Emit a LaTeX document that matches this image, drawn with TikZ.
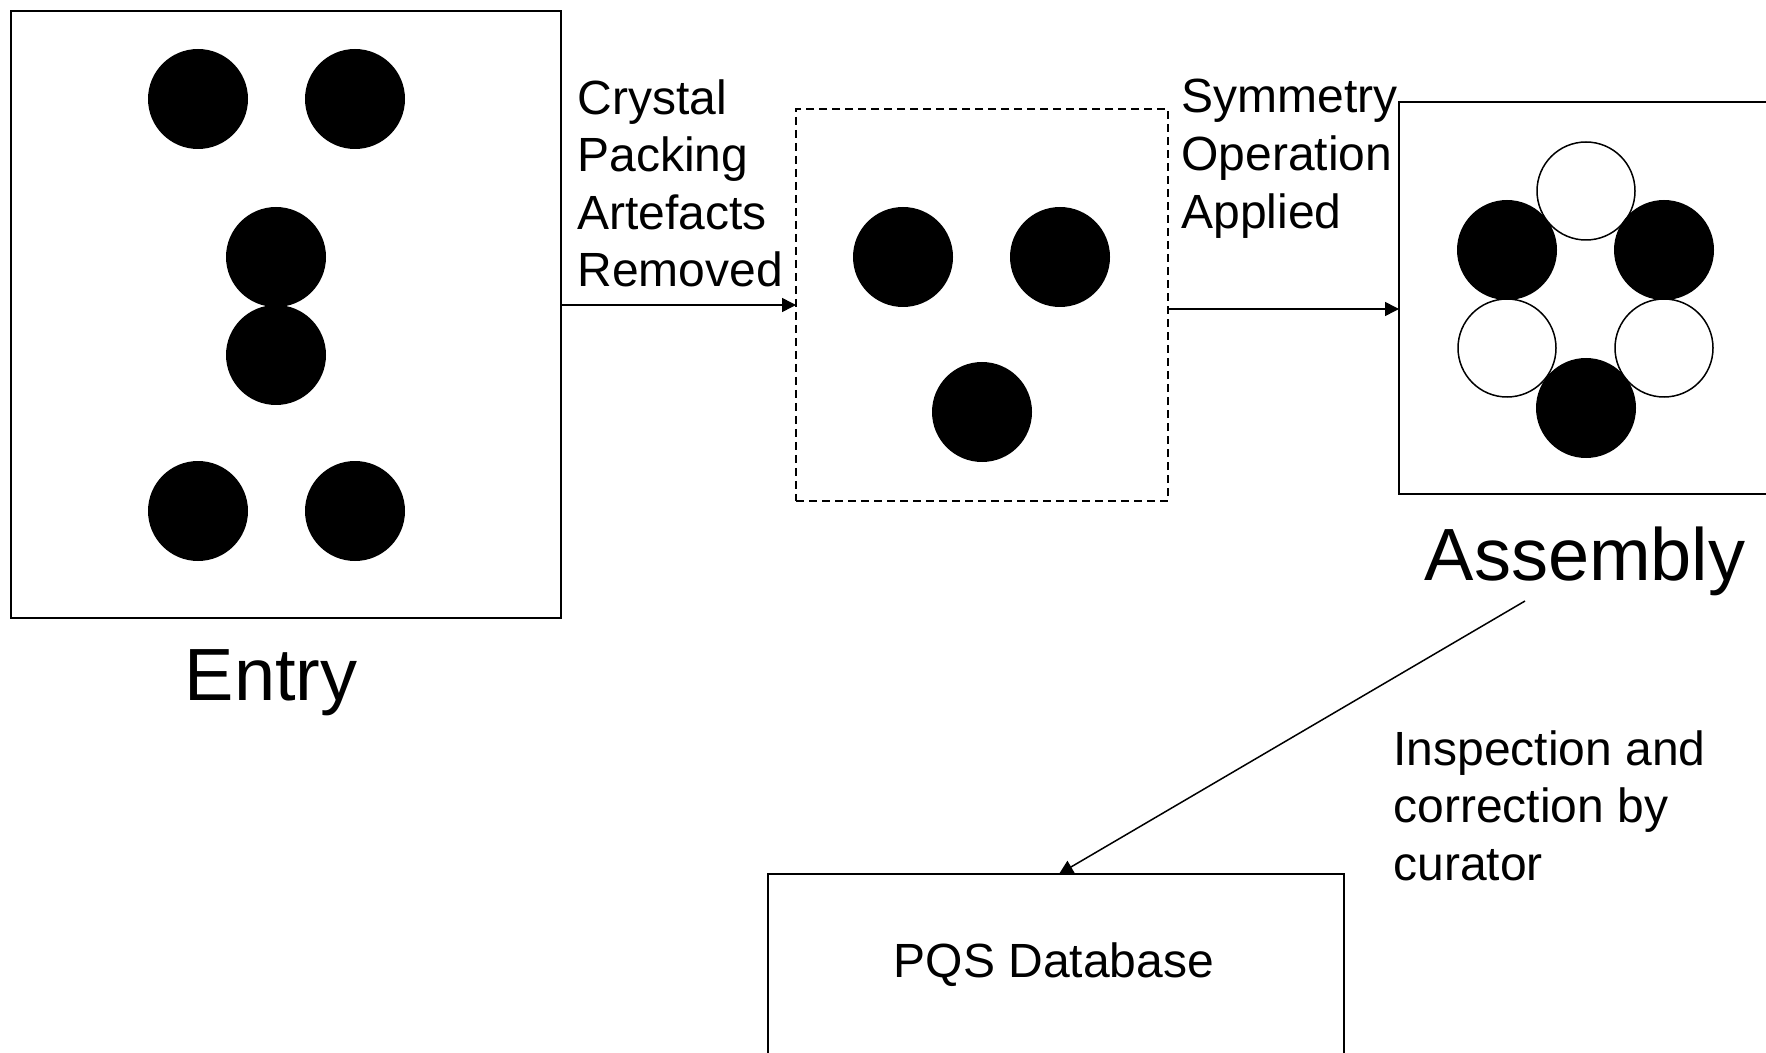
\documentclass[tikz,border=0pt]{standalone}
\usepackage{fontspec}
\setmainfont{Liberation Sans}
\usetikzlibrary{arrows.meta}
\begin{document}
\begin{tikzpicture}[x=0.5pt,y=-0.5pt,
  boxed/.style={draw,line width=1pt,rectangle,inner sep=0pt,outer sep=0pt},
  dashbox/.style={draw,line width=0.75pt,dash pattern=on 4pt off 2.5pt,rectangle,inner sep=0pt,outer sep=0pt},
  arr/.style={line width=0.75pt,-{Triangle[length=7pt,width=7pt]}},
  lbl/.style={font=\fontsize{24}{28.8}\selectfont,align=left,inner sep=0pt,anchor=north west},
  biglbl/.style={font=\fontsize{37}{44}\selectfont,inner sep=0pt,anchor=base},
  dot/.style={fill=black},
  ring/.style={draw=black,fill=white,line width=0.75pt}]
\useasboundingbox (0,0) rectangle (1766,1053);
\clip (0,0) rectangle (1766,1053);
% boxes
\node[boxed,minimum width=275pt,minimum height=303.5pt] (entry) at (286,314.5) {};
\node[dashbox,minimum width=186pt,minimum height=196pt] (crop) at (982,305) {};
\node[boxed,minimum width=200pt,minimum height=196pt] (assembly) at (1599,298) {};
\node[boxed,minimum width=288pt,minimum height=120pt] (pqs) at (1056,994) {};
% entry circles
\foreach \p in {(198,99),(355,99),(276,257),(276,355),(198,511),(355,511)}
  \fill[dot] \p circle[radius=50];
% cropped circles
\foreach \p in {(903,257),(1060,257),(982,412)}
  \fill[dot] \p circle[radius=50];
% assembly circles
\foreach \p in {(1586,191),(1507,348),(1664,348)}
  \draw[ring] \p circle[radius=49];
\foreach \p in {(1507,250),(1664,250),(1586,408)}
  \fill[dot] \p circle[radius=50];
% labels
\node[lbl] (t1) at (577,79) {Crystal\\Packing\\Artefacts\\Removed};
\node[lbl] (t2) at (1181,79) {Symmetry\\Operation\\Applied};
\node[lbl] (t3) at (1393,730) {Inspection and\\correction by\\curator};
\node[biglbl] (entrylbl) at (271,700) {Entry};
\node[biglbl] (assemblylbl) at (1585,580) {Assembly};
\node[font=\fontsize{24}{28.8}\selectfont,inner sep=0pt,anchor=base] (pqslbl) at (1054,977) {PQS Database};
% connectors
\coordinate (a1) at ([yshift=4.75pt]entry.east);
\coordinate (a2) at ([yshift=-2pt]crop.east);
\draw[arr] (a1) -- (crop.west |- a1);
\draw[arr] (a2) -- (assembly.west |- a2);
\coordinate (inspstart) at (1525,601);
\draw[arr] (inspstart) -- ([xshift=1.5pt]pqs.north);
\end{tikzpicture}
\end{document}
